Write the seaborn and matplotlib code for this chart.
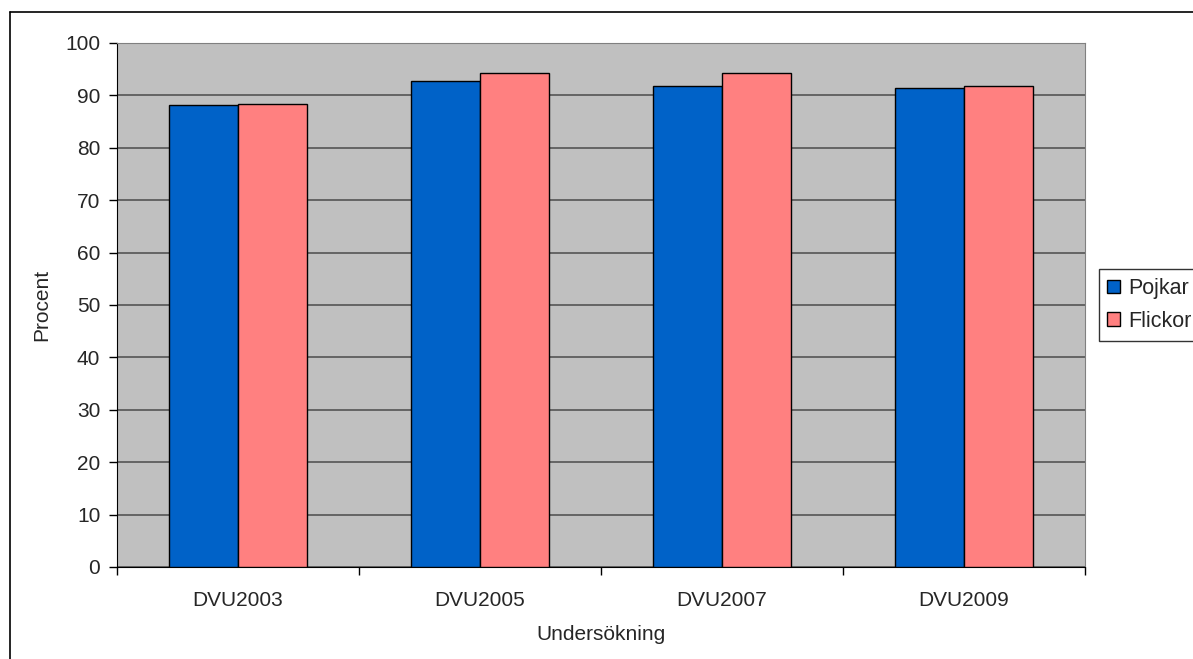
import matplotlib
matplotlib.use("Agg")
import matplotlib.pyplot as plt
import seaborn as sns
import pandas as pd
from matplotlib.lines import Line2D

surveys = ["DVU2003", "DVU2005", "DVU2007", "DVU2009"]
pojkar = [88.2, 92.8, 91.7, 91.5]
flickor = [88.4, 94.3, 94.3, 91.8]

df = pd.DataFrame({
    "Undersökning": surveys * 2,
    "Procent": pojkar + flickor,
    "Kön": ["Pojkar"] * len(surveys) + ["Flickor"] * len(surveys),
})

sns.set_style("white")
plt.rcParams["font.family"] = ["Liberation Sans", "DejaVu Sans"]

fig = plt.figure(figsize=(11.93, 6.59), dpi=100)
ax = fig.add_axes([117 / 1193, 1 - 567 / 659, (1085 - 117) / 1193, (567 - 43) / 659])
ax.set_facecolor("#C0C0C0")

sns.barplot(data=df, x="Undersökning", y="Procent", hue="Kön",
            palette={"Pojkar": "#0062C8", "Flickor": "#FF8080"}, saturation=1,
            width=0.57, edgecolor="black", linewidth=1, ax=ax, zorder=3)

ax.set_ylim(0, 100)
ax.set_xlim(-0.5, 3.5)
ax.set_yticks(range(0, 101, 10))
ax.yaxis.grid(True, color="#555555", linewidth=1.2, zorder=1)
ax.set_axisbelow(True)

ax.set_xticks([i - 0.5 for i in range(5)], minor=True)
ax.tick_params(axis="x", which="major", length=0, labelsize=15, pad=17)
ax.tick_params(axis="x", which="minor", length=6, color="black", direction="out", width=1, bottom=True)
ax.tick_params(axis="y", length=6, color="black", direction="out", width=1, labelsize=15, pad=6, left=True)

for side in ["top", "right"]:
    ax.spines[side].set_color("#808080")
for side in ["left", "bottom"]:
    ax.spines[side].set_color("black")

ax.set_xlabel("Undersökning", fontsize=15, labelpad=11)
ax.set_ylabel("Procent", fontsize=15, labelpad=10)

leg = ax.legend(loc="center left", bbox_to_anchor=(1.014, 0.5), fontsize=15.5,
                frameon=True, fancybox=False, edgecolor="black",
                handlelength=0.6, handleheight=0.6, handletextpad=0.4,
                borderpad=0.4, labelspacing=0.55, borderaxespad=0)
leg.get_frame().set_linewidth(1)

# chart-area frame, only top and left edges are visible in the crop
x0, y0 = 9.5 / 1193, 1 - 11.5 / 659
fig.add_artist(Line2D([x0, 1], [y0, y0], transform=fig.transFigure, color="black", linewidth=1.2))
fig.add_artist(Line2D([x0, x0], [0, y0], transform=fig.transFigure, color="black", linewidth=1.2))

fig.savefig("out.png", dpi=100)
